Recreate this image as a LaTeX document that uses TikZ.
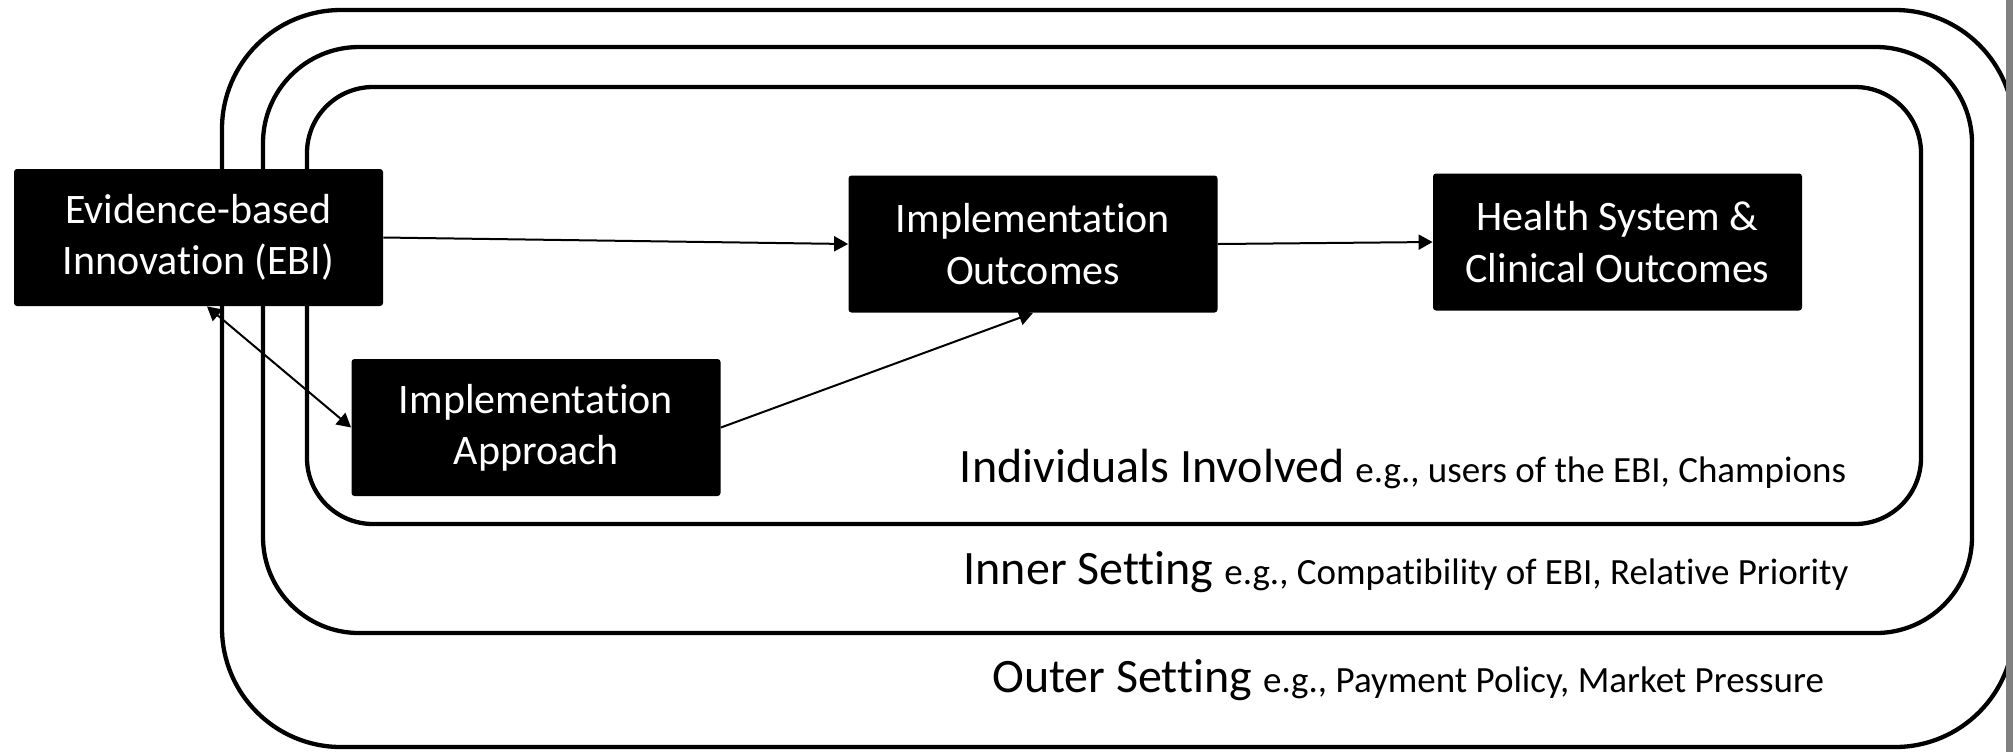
\documentclass[tikz,border=0pt]{standalone}
\usepackage{fontspec}
\setmainfont{Carlito}[Ligatures=NoCommon]
\usetikzlibrary{arrows.meta}
\definecolor{barGray}{RGB}{128,128,128}
\begin{document}
\begin{tikzpicture}[x=0.5pt,y=-0.5pt,
  ring/.style={draw=black,line width=2.15pt},
  blackbox/.style={fill=black,text=white,rounded corners=1.5pt,
    minimum width=184.5pt,minimum height=68.5pt,align=center,inner sep=0pt,
    font=\fontsize{21}{25.6}\selectfont},
  tip/.tip={Triangle[length=7pt,width=7.5pt]},
  link/.style={line width=1pt,-tip},
  layer/.style={anchor=base,inner sep=0pt}]
  \clip (0,0) rectangle (2013,752);
  \fill[white] (0,0) rectangle (2013,752);

  % nested context layers
  \draw[ring,rounded corners=59.5pt] (222,10) rectangle (2014,747);
  \draw[ring,rounded corners=48pt] (263,47) rectangle (1972,633);
  \draw[ring,rounded corners=33pt] (307,87) rectangle (1921,524);

  % page edge bar
  \fill[barGray] (2006,0) rectangle (2013,752);

  % layer captions
  \node[layer] (ind) at (1403,482) {{\fontsize{24}{29}\selectfont Individuals Involved\ }{\fontsize{18.5}{22}\selectfont e.g., users of the EBI, Champions}};
  \node[layer] (inn) at (1406,584) {{\fontsize{24}{29}\selectfont Inner Setting\ }{\fontsize{18.5}{22}\selectfont e.g., Compatibility of EBI, Relative Priority}};
  \node[layer] (out) at (1408,692) {{\fontsize{24}{29}\selectfont Outer Setting\ }{\fontsize{18.5}{22}\selectfont e.g., Payment Policy, Market Pressure}};

  % main constructs
  \node[blackbox] (ebi) at (198.5,237.5) {Evidence-based\\Innovation (EBI)};
  \node[blackbox] (io) at (1033,244) {Implementation\\Outcomes};
  \node[blackbox] (hs) at (1617.5,242) {Health System \&\\Clinical Outcomes};
  \node[blackbox] (ia) at (536,427.5) {Implementation\\Approach};

  % relations
  \draw[link] (ebi.east) -- (io.west);
  \draw[link] (io.east) -- (hs.west);
  \draw[link] (ia.east) -- (io.south);
  \draw[line width=1pt,tip-tip] ([xshift=4.25pt]ebi.south) -- (ia.west);
\end{tikzpicture}
\end{document}
